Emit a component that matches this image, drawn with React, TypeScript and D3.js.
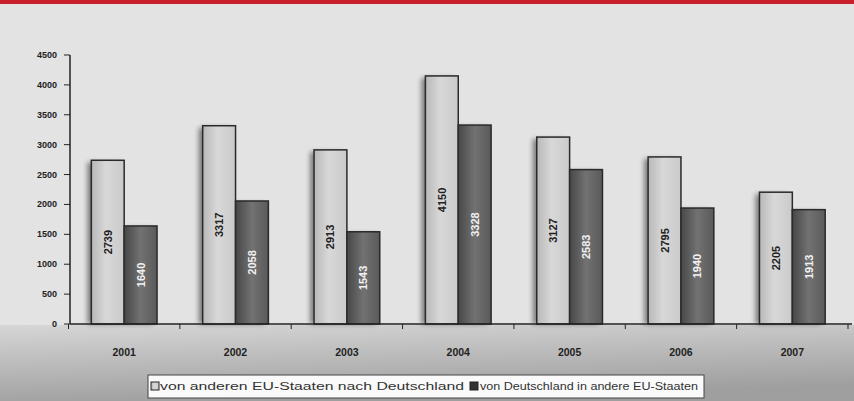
import React from "react";
import * as d3 from "d3";

const years = ["2001", "2002", "2003", "2004", "2005", "2006", "2007"];
const toGermany = [2739, 3317, 2913, 4150, 3127, 2795, 2205];
const fromGermany = [1640, 2058, 1543, 3328, 2583, 1940, 1913];
const yTicks = [0, 500, 1000, 1500, 2000, 2500, 3000, 3500, 4000, 4500];
const seriesNames = [
  "von anderen EU-Staaten nach Deutschland",
  "von Deutschland in andere EU-Staaten",
];

const W = 854;
const H = 401;

export default function App() {
  const x = d3
    .scaleBand<string>()
    .domain(years)
    .range([68.5, 848])
    .paddingInner(0.41)
    .paddingOuter(0.205);
  const y = d3.scaleLinear().domain([0, 4500]).range([324, 55]);
  const bw = x.bandwidth() / 2;
  const step = x.step();
  const x0 = 68.5;
  const font = "'Liberation Sans', Arial, sans-serif";

  const series = [
    { values: toGermany, grad: "url(#gLight)", text: "#222", dx: 0 },
    { values: fromGermany, grad: "url(#gDark)", text: "#f2f2f2", dx: bw },
  ];

  return (
    <svg
      width={W}
      height={H}
      style={{ position: "absolute", left: 0, top: 0, display: "block" }}
      fontFamily={font}
    >
      <defs>
        <linearGradient id="gLight" x1="0" x2="1" y1="0" y2="0">
          <stop offset="0" stopColor="#b8b8b8" />
          <stop offset="0.45" stopColor="#d8d8d8" />
          <stop offset="1" stopColor="#cacaca" />
        </linearGradient>
        <linearGradient id="gDark" x1="0" x2="1" y1="0" y2="0">
          <stop offset="0" stopColor="#474747" />
          <stop offset="0.5" stopColor="#727272" />
          <stop offset="1" stopColor="#5a5a5a" />
        </linearGradient>
        <linearGradient id="gBottom" x1="0" x2="0.3" y1="0" y2="1">
          <stop offset="0" stopColor="#d6d6d6" />
          <stop offset="1" stopColor="#9f9f9f" />
        </linearGradient>
        <filter id="blur" x="-50%" y="-10%" width="200%" height="120%">
          <feGaussianBlur stdDeviation="2.5" />
        </filter>
      </defs>
      <rect x={0} y={0} width={W} height={H} fill="#e3e3e3" />
      <rect x={0} y={0} width={W} height={4} fill="#c81f2b" />
      <rect x={0} y={325} width={W} height={H - 325} fill="url(#gBottom)" />

      {/* bar shadows */}
      {series.map((s, si) =>
        s.values.map((v, i) => {
          const bx = (x(years[i]) as number) + s.dx;
          const by = y(v);
          const bh = y(0) - by;
          return (
            <rect
              key={`s${si}-${i}`}
              x={bx - 4}
              y={by + 2}
              width={bw}
              height={bh - 2}
              fill="#000"
              opacity={0.45}
              filter="url(#blur)"
            />
          );
        })
      )}
      {series.map((s, si) =>
        s.values.map((v, i) => {
          const bx = (x(years[i]) as number) + s.dx;
          const by = y(v);
          const bh = y(0) - by;
          const cx = bx + bw / 2;
          const cy = by + bh / 2;
          return (
            <g key={`b${si}-${i}`}>
              <rect
                x={bx}
                y={by}
                width={bw}
                height={bh}
                fill={s.grad}
                stroke="#2a2a2a"
                strokeWidth={1.5}
              />
              <text
                transform={`translate(${cx + 4},${cy}) rotate(-90)`}
                textAnchor="middle"
                fontSize={11}
                fontWeight="bold"
                fill={s.text}
              >
                {v}
              </text>
            </g>
          );
        })
      )}

      {/* y axis */}
      <line x1={70} x2={70} y1={y(4500)} y2={y(0)} stroke="#222" strokeWidth={1.5} />
      {yTicks.map((t) => (
        <g key={t}>
          <line x1={64} x2={70} y1={y(t)} y2={y(t)} stroke="#222" strokeWidth={1} />
          <text
            x={57}
            y={y(t) + 3}
            textAnchor="end"
            fontSize={9}
            fontWeight="bold"
            fill="#222"
          >
            {t}
          </text>
        </g>
      ))}

      {/* x axis */}
      <line x1={70} x2={852} y1={y(0)} y2={y(0)} stroke="#222" strokeWidth={1.5} />
      {d3.range(years.length + 1).map((k) => (
        <line
          key={k}
          x1={x0 + k * step}
          x2={x0 + k * step}
          y1={y(0)}
          y2={y(0) + 5}
          stroke="#222"
          strokeWidth={1}
        />
      ))}
      {years.map((yr) => (
        <text
          key={yr}
          x={(x(yr) as number) + x.bandwidth() / 2}
          y={356}
          textAnchor="middle"
          fontSize={10.5}
          fontWeight="bold"
          fill="#222"
        >
          {yr}
        </text>
      ))}

      {/* legend */}
      <rect x={148} y={375} width={556} height={23} fill="#fafafa" stroke="#444" strokeWidth={1} />
      <rect x={151} y={382} width={8} height={8} fill="url(#gLight)" stroke="#222" strokeWidth={1} />
      <text x={160} y={390} fontSize={10} fill="#333" textLength={304} lengthAdjust="spacingAndGlyphs">
        {seriesNames[0]}
      </text>
      <rect x={470} y={382} width={8} height={8} fill="#333" stroke="#222" strokeWidth={1} />
      <text x={480} y={390} fontSize={10} fill="#333" textLength={218} lengthAdjust="spacingAndGlyphs">
        {seriesNames[1]}
      </text>
    </svg>
  );
}
